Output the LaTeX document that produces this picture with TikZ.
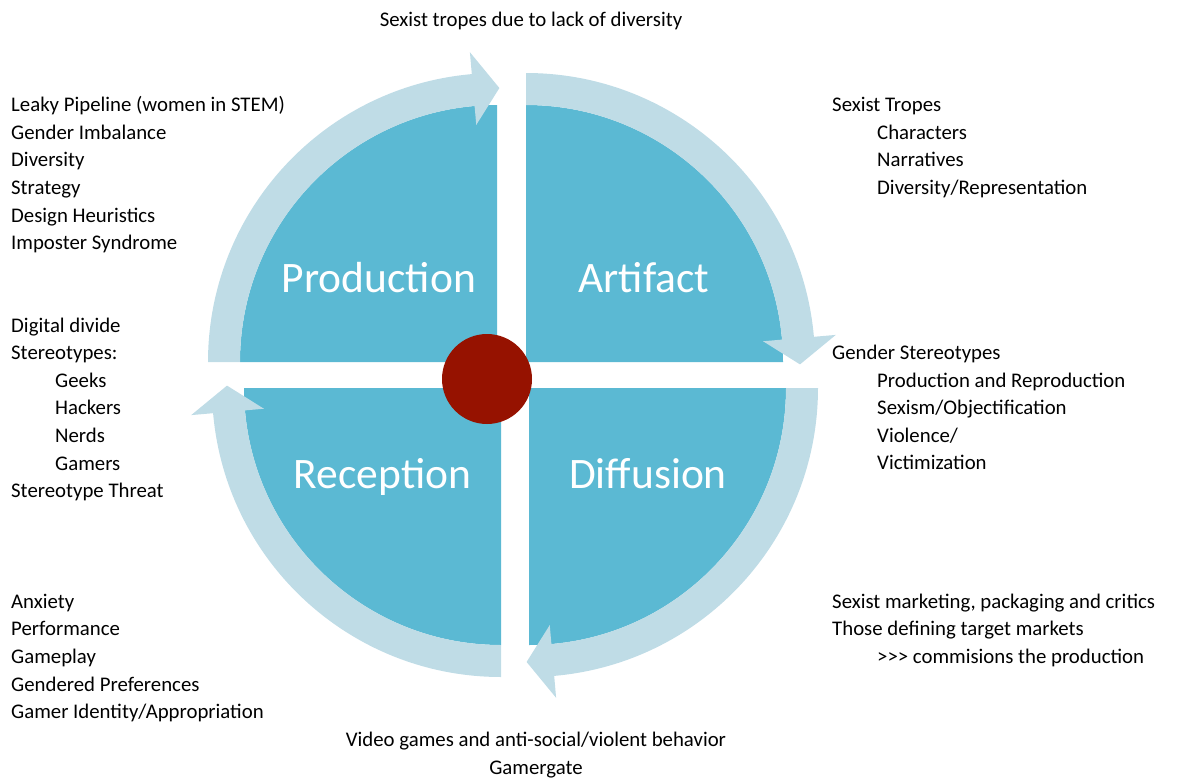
\documentclass[tikz,border=0pt]{standalone}
\usepackage{fontspec}
\setmainfont{Carlito}
\usepackage{xcolor}
\usepackage{tikz}
\usetikzlibrary{calc}
\usetikzlibrary{positioning}
\definecolor{quadblue}{HTML}{5BB9D3}
\definecolor{bandblue}{HTML}{BFDCE6}
\definecolor{hubred}{HTML}{961200}
\tikzset{
  quad/.style = {fill = quadblue},
  band/.style = {fill = bandblue},
  note/.style = {draw = none, anchor = base west, inner sep = 0, font = \fontsize{20.8}{27.6}\selectfont},
  midnote/.style = {draw = none, anchor = base, inner sep = 0, font = \fontsize{20.8}{27.6}\selectfont},
  phase/.style = {draw = none, anchor = base, inner sep = 0, text = white, font = \fontsize{43.5}{50}\selectfont}
}

\begin{document}
\begin{tikzpicture}[x = 1pt, y = -1pt]
\useasboundingbox (0, 0) rectangle (1179, 779);
% quadrant corners
\coordinate (P) at (497, 362);
\coordinate (A) at (526, 362);
\coordinate (D) at (529, 388);
\coordinate (R) at (501, 388);
% quarters and circular arrows
\foreach \c/\a in {P/180, A/270, D/0, R/90} {
  \pgfmathsetmacro\b{\a + 90}
  \pgfmathsetmacro\e{\a + 85}
  \pgfmathsetmacro\t{\a + 90.5}
  \fill [quad] (\c) -- ($(\c) + (\a:257)$) arc [start angle = \a, end angle = \b, radius = 257] -- cycle;
  \fill [band] ($(\c) + (\a:257)$) -- ($(\c) + (\a:289)$)
    arc [start angle = \a, end angle = \e, radius = 289]
    -- ($(\c) + (\e:311)$) -- ($(\c) + (\t:274)$) -- ($(\c) + (\e:238)$)
    -- ($(\c) + (\e:257)$) arc [start angle = \e, end angle = \a, radius = 257] -- cycle;
}
\node [circle, fill = hubred, minimum size = 90, inner sep = 0] (hub) at (487, 379) {};
% phase names
\node [phase] (prod) at (379, 292) {Production};
\node [phase] (art) at (644, 292) {Artifact};
\node [phase] (rec) at (382.5, 488) {Reception};
\node [phase] (dif) at (648, 488) {Diffusion};
% top and bottom notes
\node [midnote] (top) at (531, 26.7) {Sexist tropes due to lack of diversity};
\node [midnote] (bot1) at (536, 746.7) {Video games and anti-social/violent behavior};
\node [midnote] (bot2) at (536, 774.3) {Gamergate};
% left notes
\foreach \s/\dx [count = \i from 0] in {Leaky Pipeline (women in STEM)/0, Gender Imbalance/0, Diversity/0, Strategy/0, Design Heuristics/0, Imposter Syndrome/0}
  \node [note] (pr\i) at (11 + \dx, 111.7 + 27.6*\i) {\s};
\foreach \s/\dx [count = \i from 0] in {Digital divide/0, Stereotypes:/0, Geeks/44, Hackers/44, Nerds/44, Gamers/44, Stereotype Threat/0}
  \node [note] (sg\i) at (11 + \dx, 332 + 27.6*\i) {\s};
\foreach \s/\dx [count = \i from 0] in {Anxiety/0, Performance/0, Gameplay/0, Gendered Preferences/0, {Gamer Identity/Appropriation}/0}
  \node [note] (re\i) at (11 + \dx, 608.3 + 27.6*\i) {\s};
% right notes
\foreach \s/\dx [count = \i from 0] in {Sexist Tropes/0, Characters/45, Narratives/45, {Diversity/Representation}/45}
  \node [note] (ar\i) at (832 + \dx, 111.7 + 27.6*\i) {\s};
\foreach \s/\dx [count = \i from 0] in {Gender Stereotypes/0, Production and Reproduction/45, {Sexism/Objectification}/45, {Violence/}/45, Victimization/45}
  \node [note] (gs\i) at (832 + \dx, 359.5 + 27.6*\i) {\s};
\foreach \s/\dx [count = \i from 0] in {{Sexist marketing, packaging and critics}/0, Those defining target markets/0, {{>}{>}{>} commisions the production}/45}
  \node [note] (di\i) at (832 + \dx, 608.3 + 27.6*\i) {\s};
\end{tikzpicture}
\end{document}
